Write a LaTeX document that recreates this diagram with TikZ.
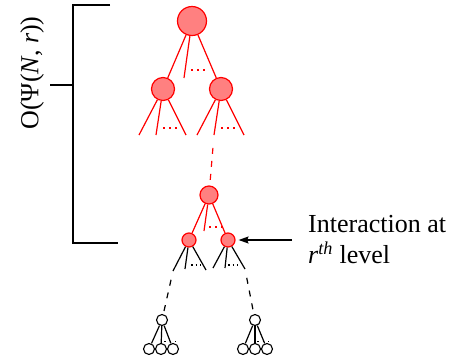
\documentclass[tikz,border=0pt]{standalone}
\usepackage{fontspec}
\setmainfont{Liberation Serif}
\usetikzlibrary{arrows.meta}

\tikzset{
    rnode/.style={circle, draw=red, fill=red!50, line width=1.2pt, inner sep=0pt},
    wnode/.style={circle, draw=black, fill=white, line width=1.1pt, inner sep=0pt, minimum size=11pt},
    rline/.style={red, line width=1.2pt},
    bline/.style={black, line width=1.2pt},
    dotline/.style={dash pattern=on 2pt off 4pt},
    smalldots/.style={dash pattern=on 1.5pt off 3pt},
    gapline/.style={dash pattern=on 6pt off 7pt},
    bigtext/.style={font=\fontsize{26}{31}\selectfont, inner sep=0pt}
}

\begin{document}
\begin{tikzpicture}[x=1pt, y=-1pt]
    \useasboundingbox (0,0) rectangle (456,360);

    % upper levels
    \node [rnode, minimum size=29pt] (root) at (192,21) {};
    \node [rnode, minimum size=23pt] (a) at (163,89) {};
    \node [rnode, minimum size=23pt] (b) at (221,89) {};
    \coordinate (r2) at (184,78);
    \foreach \c in {a,b,r2}
    \draw [rline] (root) -- (\c);
    \draw [rline, dotline] (191,70) -- (206,70);

    \coordinate (a1) at (139,135);
    \coordinate (a2) at (156,135);
    \coordinate (a3) at (186,135);
    \coordinate (b1) at (197,135);
    \coordinate (b2) at (214,135);
    \coordinate (b3) at (244,135);
    \foreach \c in {a1,a2,a3}
    \draw [rline] (a) -- (\c);
    \foreach \c in {b1,b2,b3}
    \draw [rline] (b) -- (\c);
    \draw [rline, dotline] (163,128) -- (178,128);
    \draw [rline, dotline] (221,128) -- (236,128);

    % level r
    \node [rnode, minimum size=18pt] (m) at (209,195) {};
    \draw [rline, gapline, shorten <=13pt] (b2) -- (m);
    \node [rnode, minimum size=14pt] (p) at (189,240) {};
    \node [rnode, minimum size=14pt] (q) at (228,240) {};
    \coordinate (m2) at (204,231);
    \foreach \c in {p,q,m2}
    \draw [rline] (m) -- (\c);
    \draw [rline, dotline] (209,227) -- (224,227);

    \coordinate (p1) at (173,271);
    \coordinate (p2) at (185,269);
    \coordinate (p3) at (206,270);
    \coordinate (q1) at (213,268);
    \coordinate (q2) at (225,268);
    \coordinate (q3) at (245,269);
    \foreach \c in {p1,p2,p3}
    \draw [bline] (p) -- (\c);
    \foreach \c in {q1,q2,q3}
    \draw [bline] (q) -- (\c);
    \draw [bline, smalldots] (191,265) -- (201,265);
    \draw [bline, smalldots] (228,265) -- (238,265);

    % lowest levels
    \node [wnode] (u) at (162,320) {};
    \node [wnode] (v) at (255,320) {};
    \draw [bline, gapline, shorten <=9pt] (p1) -- (u);
    \draw [bline, gapline, shorten <=9pt] (q3) -- (v);
    \node [wnode] (u1) at (149,349) {};
    \node [wnode] (u2) at (161,349) {};
    \node [wnode] (u3) at (173,349) {};
    \node [wnode] (v1) at (243,349) {};
    \node [wnode] (v2) at (255,349) {};
    \node [wnode] (v3) at (267,349) {};
    \foreach \c in {u1,u2,u3}
    \draw [bline] (u) -- (\c);
    \foreach \c in {v1,v2,v3}
    \draw [bline] (v) -- (\c);
    \draw [black, line width=1pt, dash pattern=on 1.5pt off 4pt] (164,341) -- (176,341);
    \draw [black, line width=1pt, dash pattern=on 1.5pt off 4pt] (257,341) -- (269,341);

    % cost bracket
    \draw [bline] (110,5) -- (73,5) -- (73,243) -- (118,243);
    \draw [bline] (50,85) -- (73,85);
    \node [bigtext, rotate=90] (cost) at (32,73) {O(Ψ(\textit{N}, \textit{r}))};

    % label with arrow
    \node [bigtext, align=left, anchor=west] (note) at (308,240)
        {Interaction at\\\textit{r}\textsuperscript{\textit{th}} level};
    \draw [-{Stealth[length=10pt, width=7pt, inset=1.5pt]}, line width=1.2pt,
        shorten <=16pt, shorten >=3pt] (note.west) -- (q.east);
\end{tikzpicture}
\end{document}
